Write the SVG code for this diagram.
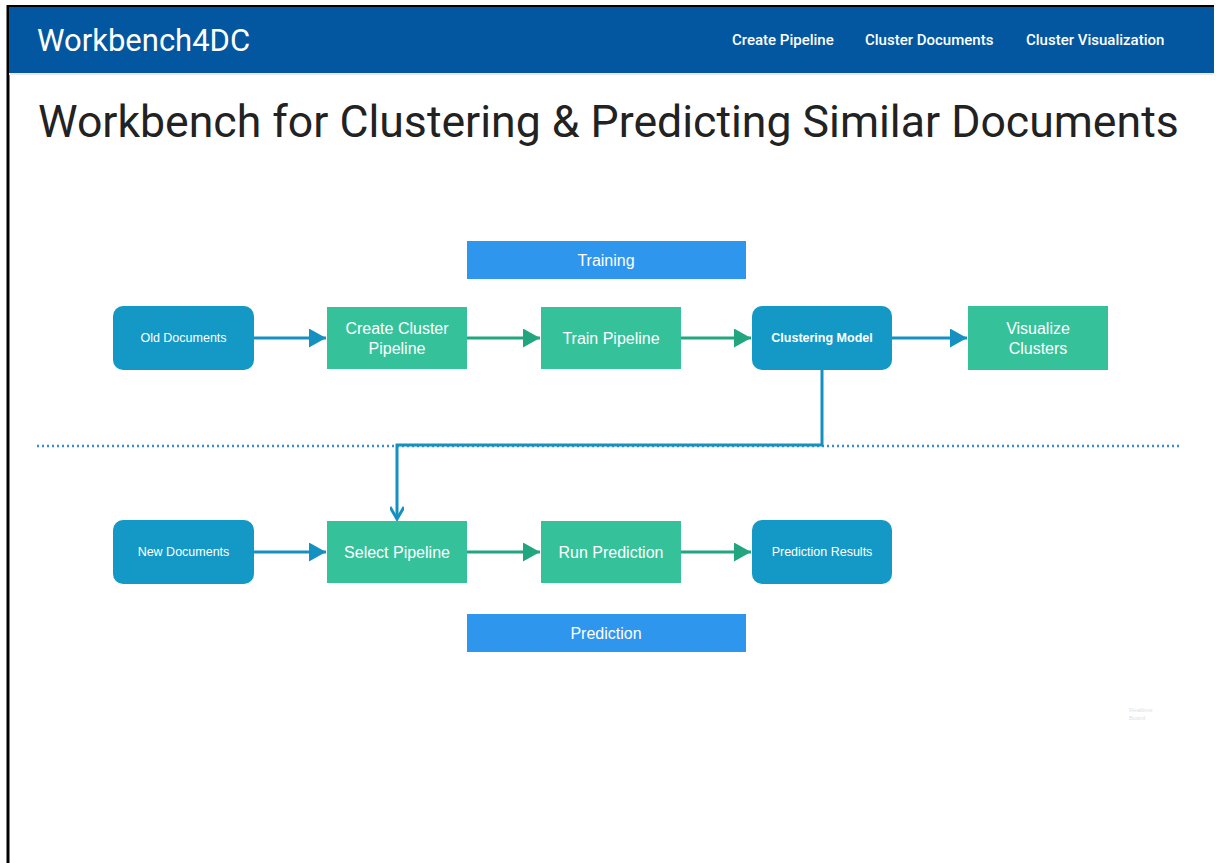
<svg xmlns="http://www.w3.org/2000/svg" width="1216" height="863" viewBox="0 0 1216 863">
  <style>
    .hdr { font-family: Roboto, "Liberation Sans", sans-serif; fill: #ffffff; }
    .nav { font-family: Roboto, "Liberation Sans", sans-serif; font-size: 15px; font-weight: 500; fill: #ffffff; }
    .h1 { font-family: Roboto, "Liberation Sans", sans-serif; font-size: 44.6px; fill: #222222; }
    .blue { fill: #1499c6; }
    .green { fill: #35c29b; }
    .band { fill: #2f96ee; }
    .lbl { font-family: "Liberation Sans", Arial, sans-serif; fill: #ffffff; text-anchor: middle; }
    .big { font-size: 16px; }
    .small { font-size: 12.5px; }
    .lnb { stroke: #1591c1; stroke-width: 3; fill: none; }
    .lng { stroke: #22a67f; stroke-width: 3; fill: none; }
  </style>
  <defs>
    <marker id="headBlue" viewBox="0 0 17 19" refX="17" refY="9.5" markerWidth="17" markerHeight="19" markerUnits="userSpaceOnUse" orient="auto">
      <path d="M0,0 L17,9.5 L0,19 Z" fill="#1591c1"/>
    </marker>
    <marker id="headGreen" viewBox="0 0 17 19" refX="17" refY="9.5" markerWidth="17" markerHeight="19" markerUnits="userSpaceOnUse" orient="auto">
      <path d="M0,0 L17,9.5 L0,19 Z" fill="#22a67f"/>
    </marker>
    <marker id="headOpen" viewBox="0 0 16 14" refX="14" refY="7" markerWidth="16" markerHeight="14" markerUnits="userSpaceOnUse" orient="auto">
      <path d="M2,0 L14,7 L2,14" fill="none" stroke="#1591c1" stroke-width="3"/>
    </marker>
  </defs>

  <rect x="0" y="0" width="1216" height="863" fill="#ffffff"/>

  <!-- page frame -->
  <g id="frame">
    <line x1="8" y1="6" x2="1214" y2="6" stroke="#000" stroke-width="2"/>
    <line x1="8" y1="5" x2="8" y2="863" stroke="#000" stroke-width="3"/>
  </g>

  <!-- navigation bar -->
  <g id="navbar">
    <rect x="9" y="7" width="1205" height="66" fill="#0257a0"/>
    <rect x="9" y="73" width="1205" height="2" fill="#f3e6dc"/>
    <text class="hdr" x="37" y="51" font-size="31">Workbench4DC</text>
    <text class="nav" x="732" y="45">Create Pipeline</text>
    <text class="nav" x="865" y="45">Cluster Documents</text>
    <text class="nav" x="1026" y="45">Cluster Visualization</text>
  </g>

  <text id="title" class="h1" x="38" y="137">Workbench for Clustering &amp; Predicting Similar Documents</text>

  <!-- phase bands -->
  <g id="training">
    <rect class="band" x="467" y="241" width="279" height="38"/>
    <text class="lbl big" x="606" y="266">Training</text>
  </g>
  <g id="prediction">
    <rect class="band" x="467" y="614" width="279" height="38"/>
    <text class="lbl big" x="606" y="639">Prediction</text>
  </g>

  <!-- connectors -->
  <g id="connectors">
    <line x1="37" y1="446" x2="1180" y2="446" stroke="#3a8dc8" stroke-width="2.5" stroke-dasharray="2 3"/>
    <line class="lnb" x1="254" y1="338" x2="326" y2="338" marker-end="url(#headBlue)"/>
    <line class="lng" x1="467" y1="338" x2="540" y2="338" marker-end="url(#headGreen)"/>
    <line class="lng" x1="681" y1="338" x2="751" y2="338" marker-end="url(#headGreen)"/>
    <line class="lnb" x1="892" y1="338" x2="967" y2="338" marker-end="url(#headBlue)"/>
    <path class="lnb" d="M822,370 V445 H397 V519" marker-end="url(#headOpen)"/>
    <line class="lnb" x1="254" y1="552" x2="326" y2="552" marker-end="url(#headBlue)"/>
    <line class="lng" x1="467" y1="552" x2="540" y2="552" marker-end="url(#headGreen)"/>
    <line class="lng" x1="681" y1="552" x2="751" y2="552" marker-end="url(#headGreen)"/>
  </g>

  <!-- training row -->
  <g id="old-documents">
    <rect class="blue" x="113" y="306" width="141" height="64" rx="10"/>
    <text class="lbl small" x="183.5" y="342">Old Documents</text>
  </g>
  <g id="create-cluster-pipeline">
    <rect class="green" x="327" y="307" width="140" height="62"/>
    <text class="lbl big" x="397" y="334">Create Cluster</text>
    <text class="lbl big" x="397" y="354">Pipeline</text>
  </g>
  <g id="train-pipeline">
    <rect class="green" x="541" y="307" width="140" height="62"/>
    <text class="lbl big" x="611" y="344">Train Pipeline</text>
  </g>
  <g id="clustering-model">
    <rect class="blue" x="752" y="306" width="140" height="64" rx="10"/>
    <text class="lbl small" x="822" y="342" font-weight="bold">Clustering Model</text>
  </g>
  <g id="visualize-clusters">
    <rect class="green" x="968" y="306" width="140" height="64"/>
    <text class="lbl big" x="1038" y="334">Visualize</text>
    <text class="lbl big" x="1038" y="354">Clusters</text>
  </g>

  <!-- prediction row -->
  <g id="new-documents">
    <rect class="blue" x="113" y="520" width="141" height="64" rx="10"/>
    <text class="lbl small" x="183.5" y="556">New Documents</text>
  </g>
  <g id="select-pipeline">
    <rect class="green" x="327" y="521" width="140" height="62"/>
    <text class="lbl big" x="397" y="558">Select Pipeline</text>
  </g>
  <g id="run-prediction">
    <rect class="green" x="541" y="521" width="140" height="62"/>
    <text class="lbl big" x="611" y="558">Run Prediction</text>
  </g>
  <g id="prediction-results">
    <rect class="blue" x="752" y="520" width="140" height="64" rx="10"/>
    <text class="lbl small" x="822" y="556">Prediction Results</text>
  </g>

  <!-- faint board credit -->
  <g id="credit" font-family="'Liberation Sans', Arial, sans-serif" font-size="6" fill="#e2e2e2">
    <text x="1129" y="712">Realtime</text>
    <text x="1129" y="720">Board</text>
  </g>
</svg>
